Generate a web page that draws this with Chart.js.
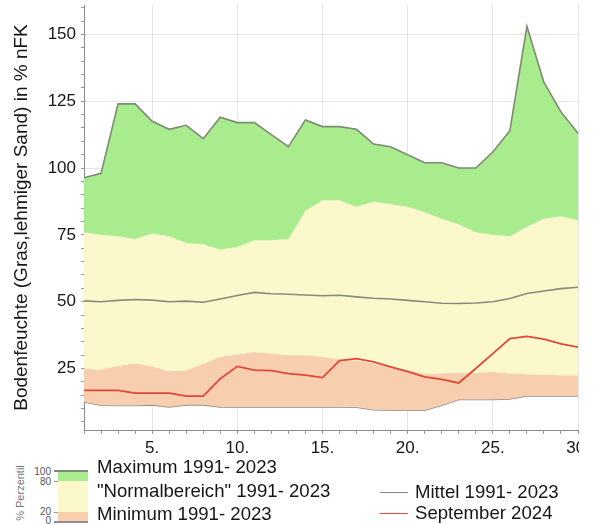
<!DOCTYPE html>
<html>
<head>
<meta charset="utf-8">
<script src="https://cdn.jsdelivr.net/npm/chart.js@4"></script>
<style>
  html, body { margin: 0; padding: 0; background: #fff; }
  #page { position: relative; width: 597px; height: 524px; overflow: hidden; font-family: "Liberation Sans", Arial, sans-serif; color: #161616; }
  #plotWrap { position: absolute; left: 0; top: 0; width: 579px; height: 462px; overflow: hidden; }
  .lg { position: absolute; white-space: nowrap; font-size: 18.6px; line-height: 20px; }
  .pc { position: absolute; font-size: 10px; line-height: 10px; color: #555; text-align: right; width: 22px; }
</style>
</head>
<body>
<div id="page">
  <div id="plotWrap"><canvas id="c" width="597" height="462"></canvas></div>

  <!-- percentile key -->
  <div style="position:absolute;left:20px;top:493px;transform:translate(-50%,-50%) rotate(-90deg);font-size:11px;color:#777;white-space:nowrap;">% Perzentil</div>
  <div class="pc" style="left:29px;top:467px;">100</div>
  <div class="pc" style="left:29px;top:477px;">80</div>
  <div class="pc" style="left:29px;top:507px;">20</div>
  <div class="pc" style="left:29px;top:516px;">0</div>
  <div style="position:absolute;left:58px;top:471px;width:30px;height:10px;background:#a8ec8e;"></div>
  <div style="position:absolute;left:58px;top:481px;width:30px;height:31px;background:#fbf8cc;"></div>
  <div style="position:absolute;left:58px;top:512px;width:30px;height:10px;background:#f8cfae;"></div>
  <div style="position:absolute;left:54px;top:470px;width:34px;height:2px;background:#7d8a74;"></div>
  <div style="position:absolute;left:54px;top:521px;width:34px;height:2px;background:#8f8f8f;"></div>
  <div style="position:absolute;left:54px;top:481px;width:4px;height:1px;background:#999;"></div>
  <div style="position:absolute;left:54px;top:512px;width:4px;height:1px;background:#999;"></div>

  <div class="lg" style="left:97px;top:457px;">Maximum 1991- 2023</div>
  <div class="lg" style="left:97px;top:481px;">"Normalbereich" 1991- 2023</div>
  <div class="lg" style="left:97px;top:504px;">Minimum 1991- 2023</div>

  <div style="position:absolute;left:380px;top:492px;width:28px;height:1px;background:#8a8a7c;"></div>
  <div class="lg" style="left:415px;top:482px;">Mittel 1991- 2023</div>
  <div style="position:absolute;left:380px;top:513px;width:28px;height:1px;background:#e8483a;"></div>
  <div class="lg" style="left:415px;top:503px;">September 2024</div>
</div>

<script>
// Days of September
const days = [1,2,3,4,5,6,7,8,9,10,11,12,13,14,15,16,17,18,19,20,21,22,23,24,25,26,27,28,29,30];

// Soil moisture (grass, loamy sand) in % nFK, 1991-2023 statistics
const maxVals = [96.4, 98, 124, 124, 117.5, 114.5, 116, 111, 119, 117,
                 117, 112.5, 108, 118, 115.5, 115.5, 114.5, 109, 108, 105,
                 102, 102, 100, 100, 106, 114, 153, 132, 121, 113];
const p80Vals = [76, 75, 74.5, 73.5, 75.5, 74.5, 72, 71.5, 69.5, 70.5,
                 73, 73, 73.5, 84, 88, 88, 85.5, 87.5, 86.5, 85.5,
                 83.5, 81, 79, 76, 75, 74.5, 78, 81, 82, 80.5];
const meanVals = [50.3, 50, 50.5, 50.8, 50.6, 50, 50.2, 49.8, 51, 52.3,
                  53.5, 53, 52.8, 52.5, 52.2, 52.4, 51.8, 51.3, 51, 50.5,
                  50, 49.4, 49.3, 49.5, 50, 51.2, 53.1, 54, 54.9, 55.4];
const p20Vals = [25, 24.5, 26, 27, 25.8, 24, 24.4, 26.8, 29.4, 30.2,
                 31.2, 30.6, 30, 30, 29.4, 28.5, 28, 27, 25.5, 24.5,
                 23, 23.2, 23.5, 23.4, 23.8, 23.1, 22.9, 22.8, 22.5, 22.5];
const minVals = [12.5, 11.3, 11.2, 11.2, 11.4, 10.6, 11.4, 11.4, 10.6, 10.6,
                 10.6, 10.6, 10.6, 10.6, 10.6, 10.6, 10.5, 9.6, 9.4, 9.4,
                 9.4, 11.3, 13.4, 13.4, 13.4, 13.6, 14.7, 14.7, 14.7, 14.7];
// September 2024
const sep2024 = [16.8, 16.8, 16.8, 15.8, 15.8, 15.8, 14.7, 14.7, 21.2, 25.8,
                 24.4, 24.2, 23.1, 22.5, 21.6, 28, 28.7, 27.5, 25.6, 23.8,
                 21.9, 20.9, 19.6, 25, 30.6, 36.2, 37, 36, 34.2, 33];

// Axis ticks
const yMajor = [25, 50, 75, 100, 125, 150];
const yMinor = [5,10,15,20,25,30,35,40,45,50,55,60,65,70,75,80,85,90,95,100,
                105,110,115,120,125,130,135,140,145,150,155,160];
const yTitle = 'Bodenfeuchte (Gras,lehmiger Sand) in % nFK';

const FONT = '"Liberation Sans", Arial, sans-serif';
const GRID = 'rgba(0,0,0,0.10)';

function band(label, data, fillTarget, bg, border, bw) {
  return {
    label, data,
    fill: fillTarget,
    backgroundColor: bg,
    borderColor: border,
    borderWidth: bw,
    pointRadius: 0,
    tension: 0
  };
}

new Chart(document.getElementById('c'), {
  type: 'line',
  data: {
    labels: days,
    datasets: [
      band('September 2024', sep2024, false, 'transparent', '#e0483a', 1.8),
      band('Mittel 1991- 2023', meanVals, false, 'transparent', '#8a8a7c', 1.6),
      band('Maximum 1991- 2023', maxVals, 3, '#a8ec8e', '#7d8a74', 1.6),
      band('P80', p80Vals, 4, '#fbf8cc', 'transparent', 0),
      band('P20', p20Vals, 5, '#f8cfae', 'transparent', 0),
      band('Minimum 1991- 2023', minVals, false, 'transparent', '#8f8f8f', 1.6)
    ]
  },
  options: {
    responsive: false,
    animation: false,
    events: [],
    layout: { padding: { top: 5, right: 19, left: 0, bottom: 0 } },
    plugins: { legend: { display: false }, tooltip: { enabled: false } },
    scales: {
      x: {
        type: 'category',
        offset: false,
        z: 1,
        border: { color: '#8a8a8a', width: 1 },
        grid: {
          color: ctx => (ctx.tick && (ctx.index + 1) % 5 === 0) ? GRID : 'transparent',
          tickColor: '#9a9a9a',
          tickLength: 4,
          drawOnChartArea: true
        },
        ticks: {
          autoSkip: false,
          maxRotation: 0,
          padding: 4,
          color: '#161616',
          font: { family: FONT, size: 17 },
          callback: function (v, i) { return (days[i] % 5 === 0) ? days[i] + '.' : ''; }
        },
        afterFit: s => { s.height = 462 - 430; s.paddingLeft = 0; s.paddingRight = 0; }
      },
      y: {
        min: 2,
        max: 161,
        z: 1,
        border: { color: '#8a8a8a', width: 1 },
        afterBuildTicks: s => { s.ticks = yMinor.map(v => ({ value: v })); },
        grid: {
          color: ctx => (ctx.tick && yMajor.includes(ctx.tick.value)) ? GRID : 'transparent',
          tickColor: '#9a9a9a',
          tickLength: 3
        },
        ticks: {
          autoSkip: false,
          padding: 5,
          color: '#161616',
          font: { family: FONT, size: 17 },
          callback: v => yMajor.includes(v) ? String(v) : ''
        },
        title: {
          display: true,
          text: yTitle,
          color: '#161616',
          font: { family: FONT, size: 19 },
          padding: { top: 10, bottom: 0 }
        },
        afterFit: s => { s.width = 84; s.paddingTop = 0; s.paddingBottom = 0; }
      }
    }
  }
});
</script>
</body>
</html>
